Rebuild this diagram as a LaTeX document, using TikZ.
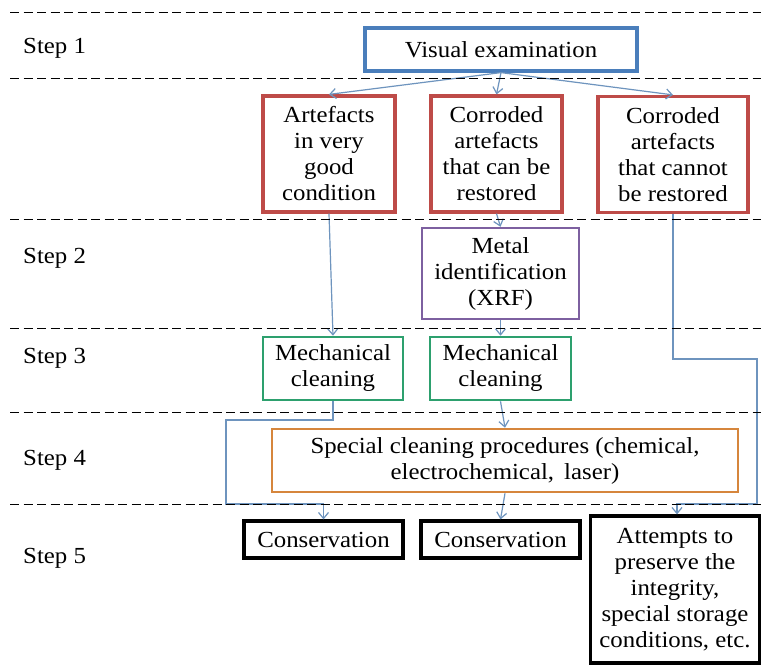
\documentclass[tikz,border=0pt]{standalone}
\usepackage{fontspec}
\setmainfont[FakeStretch=1.08]{Liberation Serif}
\usetikzlibrary{arrows.meta}
\definecolor{cblue}{RGB}{74,126,187}
\definecolor{cred}{RGB}{190,75,72}
\definecolor{cpurple}{RGB}{125,96,160}
\definecolor{cgreen}{RGB}{45,160,110}
\definecolor{corange}{RGB}{214,134,60}
\definecolor{cline}{RGB}{110,148,190}
\tikzset{
  boxbase/.style={draw, rectangle, align=center, inner sep=0pt,
    font=\fontsize{23}{26}\selectfont},
  bluebox/.style={boxbase, draw=cblue, line width=3.2pt},
  redbox/.style={boxbase, draw=cred, line width=3.2pt},
  purplebox/.style={boxbase, draw=cpurple, line width=2.4pt},
  greenbox/.style={boxbase, draw=cgreen, line width=2.6pt},
  orangebox/.style={boxbase, draw=corange, line width=2.6pt},
  blackbox/.style={boxbase, draw=black, line width=3.2pt},
  steplabel/.style={anchor=west, inner sep=0pt, font=\fontsize{23}{26}\selectfont},
  sepline/.style={draw=black, dash pattern=on 9pt off 4.5pt, line width=1pt},
  conn/.style={draw=cline, line width=1.2pt, -{Straight Barb[length=6pt,width=10pt]}},
}
\begin{document}
\begin{tikzpicture}[x=1pt,y=-1pt]
\useasboundingbox (0,0) rectangle (761,668);
\fill[white] (0,0) rectangle (761,668);

% step labels
\node[steplabel] (s1) at (23,48) {Step 1};
\node[steplabel] (s2) at (23,258) {Step 2};
\node[steplabel] (s3) at (23,358) {Step 3};
\node[steplabel] (s4) at (23,460) {Step 4};
\node[steplabel] (s5) at (23,558) {Step 5};

% boxes
\node[bluebox, minimum width=272pt, minimum height=43pt] (vis) at (501,49.5) {Visual examination};
\node[redbox, minimum width=132pt, minimum height=116pt] (r1) at (329,154) {Artefacts\\in very\\good\\condition};
\node[redbox, minimum width=131pt, minimum height=116pt] (r2) at (496.5,154) {Corroded\\artefacts\\that can be\\restored};
\node[redbox, minimum width=150pt, minimum height=116pt] (r3) at (673,154.5) {Corroded\\artefacts\\that cannot\\be restored};
\node[purplebox, minimum width=157pt, minimum height=91pt] (pur) at (500.5,273.5) {Metal\\identification\\(XRF)};
\node[greenbox, minimum width=140pt, minimum height=63pt] (g1) at (333,368.5) {Mechanical\\cleaning};
\node[greenbox, minimum width=141pt, minimum height=63pt] (g2) at (500.5,368.5) {Mechanical\\cleaning};
\node[orangebox, minimum width=466pt, minimum height=63pt] (spc) at (505,460.5) {Special cleaning procedures (chemical,\\electrochemical,\, laser)};
\node[blackbox, minimum width=159pt, minimum height=37pt] (c1) at (323.5,539.5) {Conservation};
\node[blackbox, minimum width=159pt, minimum height=37pt] (c2) at (500.5,539.5) {Conservation};
\node[blackbox, minimum width=169pt, minimum height=147pt] (att) at (675,589.5) {Attempts to\\preserve the\\integrity,\\special storage\\conditions, etc.};

% route coordinates
\coordinate (la) at (333,420);
\coordinate (lb) at (226,420);
\coordinate (lc) at (226,504);
\coordinate (ld) at (323.5,504);
\coordinate (ra) at (673,359);
\coordinate (rb) at (757,359);
\coordinate (rc) at (757,504);
\coordinate (rd) at (677,504);

% connectors
\draw[conn] (vis.south) -- (r1.north);
\draw[conn] (vis.south) -- (r2.north);
\draw[conn] (vis.south) -- (r3.north);
\draw[conn] (r1.south) -- (g1.north);
\draw[conn] (r2.south) -- (pur.north);
\draw[conn] (pur.south) -- (g2.north);
\draw[conn] (g2.south) -- (spc.north);
\draw[conn] (spc.south) -- (c2.north);
\draw[conn] (g1.south) -- (la) -- (lb) -- (lc) -- (ld) -- (c1.north);
\draw[conn] (r3.south) -- (ra) -- (rb) -- (rc) -- (rd) -- (att.north -| rd);

% dashed separators
\coordinate (d1a) at (10,13);  \coordinate (d1b) at (761,13);
\coordinate (d2a) at (10,79);  \coordinate (d2b) at (761,79);
\coordinate (d3a) at (10,220); \coordinate (d3b) at (761,220);
\coordinate (d4a) at (10,329); \coordinate (d4b) at (761,329);
\coordinate (d5a) at (10,413); \coordinate (d5b) at (761,413);
\coordinate (d6a) at (10,504); \coordinate (d6b) at (761,504);
\foreach \i in {1,...,6} {\draw[sepline] (d\i a) -- (d\i b);}
\end{tikzpicture}
\end{document}
